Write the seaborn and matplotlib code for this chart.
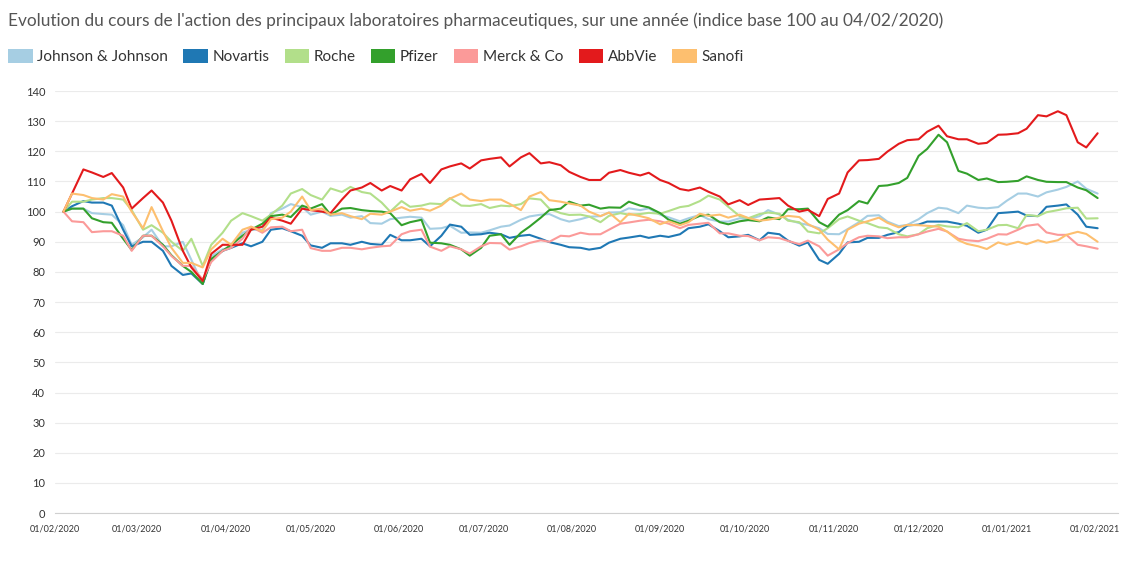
import pandas as pd
import seaborn as sns
import matplotlib.pyplot as plt
import matplotlib.dates as mdates
from matplotlib.patches import Patch

# values read twice a week (Tuesday / Friday), base 100 on 04/02/2020
tuesdays = pd.date_range("2020-02-04", "2021-02-02", freq="W-TUE")
fridays = pd.date_range("2020-02-07", "2021-01-29", freq="W-FRI")

jnj_tue = [100, 101, 99.2, 95.5, 91.5, 88.5, 90, 76, 87.5, 93, 94, 101, 101.5, 100, 99, 98.5, 96, 98,
           98, 94.5, 93, 93, 95, 97.3, 99, 97.5, 97.5, 98.5, 99.8, 100.5, 99, 96.8, 98.9, 96.7, 97.8, 98.5,
           99, 96.2, 94.5, 92.5, 96.5, 98.8, 95.2, 97.5, 101.3, 99.5, 101.3, 101.5, 106, 105, 107.3, 110, 106]
jnj_fri = [101, 99.5, 99, 89, 94, 88.5, 84, 85.2, 88, 94, 99.5, 102.5, 99, 98.6, 98, 96.2, 97.5, 98.3,
           94.3, 95.3, 93.1, 93.8, 95.4, 98.4, 99.2, 96.7, 98.3, 99.7, 101.1, 101.1, 98.1, 97.8, 97.5, 96.7, 97.5, 100.5,
           97.3, 95.6, 92.6, 94.2, 98.6, 96.7, 95.6, 99.5, 101, 102, 101.1, 103.6, 106, 106.4, 108.2, 107.6]

novartis_tue = [100, 103.5, 103, 94, 90, 87, 79, 76, 87, 89.5, 90, 94.5, 92, 88, 89.5, 90, 89, 90.5,
                91, 92, 95, 92.5, 92.5, 92, 91, 89, 88, 88, 91, 92, 92, 92.5, 95, 93.5, 91.8, 90.5,
                92.5, 88.7, 84, 86, 90, 91.3, 93.2, 95.7, 96.7, 96, 93, 99.5, 100, 98.5, 102, 99, 94.5]
novartis_fri = [101.8, 103, 102, 88.5, 90, 82, 79.5, 84, 88, 88.5, 94, 93.5, 88.8, 89.5, 89, 89.3, 92.3, 90.5,
                88.5, 95.7, 92.3, 93, 91.3, 92.3, 89.9, 88.2, 87.4, 89.7, 91.4, 91.3, 91.6, 94.5, 95.8, 91.5, 92.3, 93,
                90.4, 89.8, 82.7, 89.8, 91.3, 92.3, 95.4, 96.7, 96.7, 95.3, 94, 99.7, 98.7, 101.6, 102.4, 95]

roche_tue = [100, 103.3, 104.5, 104, 94, 93, 87, 82, 93, 99.5, 97, 102, 107.5, 104, 106.5, 106.5, 103, 103.5,
             102, 102.5, 102, 102.5, 102, 102.5, 104, 99.5, 99, 96.5, 99.5, 99.2, 99.3, 101.5, 103.5, 104, 98.5, 99.2,
             99.3, 96.5, 92.8, 97.5, 97, 94.8, 92.5, 92.5, 95.6, 94.8, 93.5, 95.5, 94.5, 98.5, 100.5, 101.3, 97.8]
roche_fri = [103.3, 104, 104.5, 100.5, 95.5, 90, 91, 89, 97, 98.5, 99, 106, 105.5, 107.7, 108.2, 106, 100, 101.6,
             102.7, 104.5, 101.9, 101.2, 101.8, 104.4, 101, 98.9, 98.4, 98.6, 99, 99.6, 100.2, 101.9, 105.3, 101.6, 97.8, 99.7,
             97, 93.4, 94.5, 98.4, 96.2, 94.5, 91.8, 94.5, 95.1, 96.2, 94, 95.6, 98.9, 99.8, 101.1, 97.7]

pfizer_tue = [100, 101, 96.5, 91, 92, 89, 82, 76, 87, 92, 96, 99, 102, 102.5, 101, 100.5, 100, 95.5,
              97.3, 89.5, 87.5, 88, 92.5, 93, 98, 101, 102, 101, 101.3, 102, 99.5, 96, 98.6, 96.5, 96.8, 96.8,
              97.5, 100.8, 96.5, 99, 103.5, 108.5, 109.5, 118.5, 125.5, 113.5, 110.5, 109.8, 110.2, 110.5, 109.8, 108, 104.5]
pfizer_fri = [101, 97.8, 96.3, 87.3, 92, 85.5, 80, 84.3, 89, 94, 98.5, 98.2, 101, 99, 101.2, 100.2, 99.5, 96.5,
              89.7, 89, 85.4, 92, 89, 95, 100.5, 103.3, 102.3, 101.4, 103.3, 101.4, 97.3, 97, 99, 95.8, 97.2, 98.1,
              100.8, 101, 95, 100.5, 102.7, 108.7, 111.2, 120.8, 123, 112.6, 111, 109.9, 111.7, 109.9, 109.8, 107.1]

merck_tue = [100, 96.5, 93.5, 92, 92, 88.5, 82, 77.5, 87, 91, 93, 95, 94, 87, 88, 87.5, 88.5, 92.5,
             94, 87, 87.5, 88.5, 89.5, 88.5, 90.5, 92, 93, 92.5, 96, 97, 96.8, 94.5, 96, 92.8, 92, 90.5,
             91.2, 89.2, 88.5, 87.5, 91.5, 91.8, 91.5, 92.5, 94.3, 91, 90.2, 92.5, 94, 95.8, 92.3, 89, 87.7]
merck_fri = [96.8, 93.2, 93.5, 87, 92, 85.3, 82, 83.3, 88, 95, 94.8, 93.5, 87.9, 87, 88, 88, 88.7, 93.5,
             88.4, 88.5, 86.1, 89.6, 87.4, 89.6, 90, 91.8, 92.5, 94, 96.4, 97.3, 96, 95.6, 96.3, 92.8, 91.9, 91.5,
             90.3, 90.4, 85.4, 89.6, 92, 91.2, 91.5, 93.4, 93.4, 90.5, 91, 92.4, 95.3, 93.1, 92.3, 88.5]

abbvie_tue = [100, 114, 111.5, 108, 104.5, 103, 87, 77, 89, 89, 95, 97, 101, 100, 104, 108, 107, 107,
              112.5, 114, 116, 117, 118, 118, 116, 115.4, 111.5, 110.5, 113.8, 112, 110.5, 107.5, 108, 105, 103.8, 104,
              104.5, 100, 98.5, 106, 117, 117.5, 122.5, 124, 128.5, 124, 122.5, 125.5, 126, 132, 133.3, 123, 126]
abbvie_fri = [106, 113, 112.8, 101, 107, 97, 81.5, 86, 89, 94, 98, 96, 100.5, 99.5, 107, 109.5, 108.5, 110.7,
              109.5, 115, 114.3, 117.5, 115, 119.4, 116.4, 113.2, 110.5, 112.9, 112.9, 112.9, 109.5, 107, 106.6, 102.4, 102.2, 104.2,
              102, 100.6, 104.2, 113, 117.1, 119.9, 123.7, 126.5, 125, 124, 122.8, 125.6, 127.5, 131.6, 132, 121.3]

sanofi_tue = [100, 105.5, 104, 105, 94.5, 93.5, 83, 81.5, 91, 94, 93.5, 98, 105, 101, 99.5, 97.5, 99, 101.5,
              101, 102, 106, 103.5, 104, 100.5, 106.5, 103.3, 102, 98.5, 96.5, 98.5, 95.8, 95.5, 99.3, 99, 99, 97,
              98, 98.2, 94, 87.5, 96, 98, 94.8, 95.5, 95, 90.5, 88.5, 89.8, 90, 90.5, 90.5, 93.3, 90]
sanofi_fri = [106, 104.5, 105.8, 100, 101.5, 88, 83, 87.5, 89, 95, 97.5, 100, 100.5, 99, 98.5, 99.3, 100, 100.3,
              100.3, 104.3, 104, 104, 102.6, 105, 103.8, 102.7, 100, 99.7, 99.3, 97.8, 96.8, 96.5, 98.6, 98, 97.9, 97.3,
              98.6, 95.9, 90.7, 94, 96.8, 96.3, 95.6, 95.3, 93.4, 89.3, 87.6, 89, 89.2, 89.7, 92.3, 92.6]

labos = ["Johnson & Johnson", "Novartis", "Roche", "Pfizer", "Merck & Co", "AbbVie", "Sanofi"]
series = [(jnj_tue, jnj_fri), (novartis_tue, novartis_fri), (roche_tue, roche_fri),
          (pfizer_tue, pfizer_fri), (merck_tue, merck_fri), (abbvie_tue, abbvie_fri),
          (sanofi_tue, sanofi_fri)]

frames = []
for name, (tue, fri) in zip(labos, series):
    frames.append(pd.DataFrame({"date": tuesdays, "indice": tue, "labo": name}))
    frames.append(pd.DataFrame({"date": fridays, "indice": fri, "labo": name}))
df = pd.concat(frames).sort_values(["labo", "date"]).reset_index(drop=True)

sns.set_style("white")
plt.rcParams["font.family"] = ["Lato", "DejaVu Sans"]

palette = dict(zip(labos, sns.color_palette("Paired", 7)))

fig = plt.figure(figsize=(11.22, 5.62), dpi=100)
ax = fig.add_axes([0.049, 0.087, 0.947, 0.751])

sns.lineplot(data=df, x="date", y="indice", hue="labo", hue_order=labos,
             palette=palette, linewidth=1.5, legend=False, ax=ax)

ax.set_xlim(pd.Timestamp("2020-02-01"), pd.Timestamp("2021-02-09"))
ax.set_ylim(0, 140)
ax.set_yticks(range(0, 141, 10))
ax.set_xticks(pd.date_range("2020-02-01", "2021-02-01", freq="MS"))
ax.xaxis.set_major_formatter(mdates.DateFormatter("%d/%m/%Y"))
ax.set_xlabel("")
ax.set_ylabel("")

ax.yaxis.grid(True, color="#ebebeb", linewidth=0.8)
ax.xaxis.grid(False)
for side in ["left", "top", "right"]:
    ax.spines[side].set_visible(False)
ax.spines["bottom"].set_color("#d0d0d0")
ax.tick_params(axis="y", length=5, width=0.8, color="#d0d0d0", labelsize=8, labelcolor="#333333", pad=2)
ax.tick_params(axis="x", length=5, width=0.8, color="#d0d0d0", labelsize=6.5, labelcolor="#333333", pad=3)

fig.text(0.007, 0.964, "Evolution du cours de l'action des principaux laboratoires pharmaceutiques, "
         "sur une année (indice base 100 au 04/02/2020)",
         fontsize=12.4, color="#555555", va="center", ha="left")

handles = [Patch(facecolor=palette[n], edgecolor="none", label=n) for n in labos]
fig.legend(handles=handles, loc="center left", bbox_to_anchor=(-0.005, 0.899), ncol=7,
           frameon=False, fontsize=11, handlelength=1.6, handleheight=1.0,
           handletextpad=0.3, columnspacing=1.0, labelcolor="#333333")

fig.savefig("out.png", dpi=100)
